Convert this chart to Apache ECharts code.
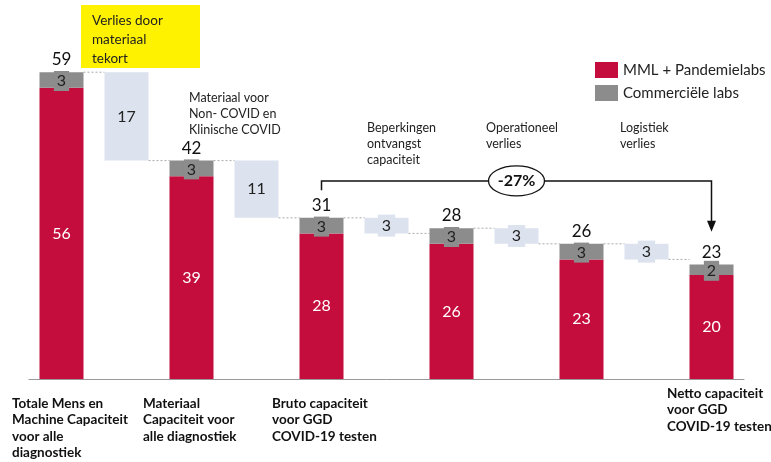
<!DOCTYPE html>
<html><head><meta charset="utf-8">
<script src="https://cdn.jsdelivr.net/npm/echarts@6/dist/echarts.min.js"></script>
<style>html,body{margin:0;padding:0;background:#fff}#c{width:771px;height:462px}</style>
</head><body><div id="c"></div>
<script>
const categories = ['Totale capaciteit','Verlies materiaal','Materiaal capaciteit','Non-COVID','Bruto capaciteit','Beperkingen ontvangst','Na ontvangst','Operationeel verlies','Na operationeel','Logistiek verlies','Netto capaciteit'];
const mmlValues        = [56, null, 39, null, 28, null, 26, null, 23, null, 20];
const commercialValues = [3,  null, 3,  null, 3,  null, 3,  null, 3,  null, 2];
const totalLabels      = [59, null, 42, null, 31, null, 28, null, 26, null, 23];
const lossValues       = [null, 17, null, 11, null, 3, null, 3, null, 3, null];
const bottomLabels = [
  'Totale Mens en\nMachine Capaciteit\nvoor alle\ndiagnostiek',
  'Materiaal\nCapaciteit voor\nalle diagnostiek',
  'Bruto capaciteit\nvoor GGD\nCOVID-19 testen',
  'Netto capaciteit\nvoor GGD\nCOVID-19 testen'
];
const stepLabels = [
  'Materiaal voor\nNon- COVID en\nKlinische COVID',
  'Beperkingen\nontvangst\ncapaciteit',
  'Operationeel\nverlies',
  'Logistiek\nverlies'
];
const highlightLabel = 'Verlies door\nmateriaal\ntekort';
const changeLabel = '-27%';
const seriesNames = ['MML + Pandemielabs', 'Commerciële labs'];

const RED = '#c40d3d', GREY = '#8c8c8c', LOSS = '#dce2ee';
const FONT = 'Lato, "Open Sans", sans-serif';

// derived waterfall pieces
const totals = mmlValues.map((v, i) => v == null ? null : v + commercialValues[i]);
const lossBase = lossValues.map((v, i) => v == null ? null : totals[i - 1] - v);
const topZero = totals.map(v => v == null ? null : 0);
const connectorData = [];
for (let i = 0; i < categories.length - 1; i++) {
  const level = totals[i] != null ? totals[i] : lossBase[i];
  connectorData.push([i, level]);
}

const chart = echarts.init(document.getElementById('c'), null, {renderer: 'canvas'});
const BW = 44;
chart.setOption({
  animation: false,
  textStyle: {fontFamily: FONT},
  grid: {left: 29, right: 27, top: 15, bottom: 83},
  legend: {
    data: seriesNames, orient: 'vertical', left: 590, top: 57,
    itemWidth: 23, itemHeight: 16, itemGap: 7, icon: 'rect',
    textStyle: {fontSize: 15, color: '#222', fontFamily: FONT}
  },
  xAxis: {
    type: 'category', data: categories,
    axisLine: {lineStyle: {color: '#999', width: 1}},
    axisTick: {show: false}, axisLabel: {show: false}, splitLine: {show: false}
  },
  yAxis: {type: 'value', min: 0, max: 70, show: false, splitLine: {show: false}},
  series: [
    {
      name: 'base', type: 'bar', stack: 'w', barWidth: BW, data: lossBase,
      itemStyle: {color: 'rgba(0,0,0,0)'}, silent: true
    },
    {
      name: seriesNames[0], type: 'bar', stack: 'w', barWidth: BW, data: mmlValues,
      itemStyle: {color: RED},
      label: {show: true, position: 'inside', color: '#fff', fontSize: 16, fontFamily: FONT}
    },
    {
      name: 'loss', type: 'bar', stack: 'w', barWidth: BW, data: lossValues,
      itemStyle: {color: LOSS},
      label: {show: true, position: 'inside', color: '#222', fontSize: 16, fontFamily: FONT,
        backgroundColor: LOSS, padding: [3, 4, 3, 4]}
    },
    {
      name: seriesNames[1], type: 'bar', stack: 'w', barWidth: BW, data: commercialValues,
      itemStyle: {color: GREY},
      label: {show: true, position: 'inside', color: '#222', fontSize: 16, fontFamily: FONT,
        backgroundColor: GREY, padding: [1, 3, 3, 3], offset: [0, 1]}
    },
    {
      name: 'total', type: 'bar', stack: 'w', barWidth: BW, data: topZero,
      itemStyle: {color: 'rgba(0,0,0,0)'},
      label: {show: true, position: 'top', distance: 4, color: '#111', fontSize: 17, fontFamily: FONT,
        formatter: p => totalLabels[p.dataIndex]}
    },
    {
      name: 'connectors', type: 'custom', z: 1, silent: true, data: connectorData,
      renderItem: (params, api) => {
        const i = api.value(0), lv = api.value(1);
        const p1 = api.coord([i, lv]), p2 = api.coord([i + 1, lv]);
        const hw = api.size([1, 0])[0] * 0.5 * BW / 65;
        return {type: 'line', shape: {x1: p1[0] + hw, y1: p1[1], x2: p2[0] - hw, y2: p2[1]},
          style: {stroke: '#aaa', lineWidth: 1, lineDash: [2, 2]}};
      }
    },
    {
      name: 'bracket', type: 'custom', z: 5, silent: true, data: [[4, 10, 36.3, 38.1, 28.3]],
      renderItem: (params, api) => {
        const a = api.coord([api.value(0), api.value(2)]);
        const b = api.coord([api.value(0), api.value(3)]);
        const c = api.coord([api.value(1), api.value(3)]);
        const d = api.coord([api.value(1), api.value(4)]);
        const mx = (b[0] + c[0]) / 2;
        return {type: 'group', children: [
          {type: 'polyline', shape: {points: [a, b, c, [d[0], d[1] - 9]]},
            style: {stroke: '#111', lineWidth: 1.5, fill: null}},
          {type: 'polygon', shape: {points: [[d[0] - 4.5, d[1] - 11], [d[0] + 4.5, d[1] - 11], [d[0], d[1]]]},
            style: {fill: '#111'}},
          {type: 'ellipse', shape: {cx: mx, cy: b[1], rx: 28, ry: 15},
            style: {fill: '#fff', stroke: '#111', lineWidth: 1.3}},
          {type: 'text', x: mx, y: b[1], style: {text: changeLabel, font: 'bold 16px ' + FONT,
            fill: '#111', align: 'center', verticalAlign: 'middle'}}
        ]};
      }
    }
  ],
  graphic: [
    {type: 'rect', left: 81, top: 5, shape: {width: 119, height: 63}, style: {fill: '#fff200'}},
    {type: 'text', left: 92, top: 11, style: {text: highlightLabel, font: '13.5px ' + FONT, fill: '#222', lineHeight: 19}},
    {type: 'text', left: 189, top: 90, style: {text: stepLabels[0], font: '12.5px ' + FONT, fill: '#222', lineHeight: 16}},
    {type: 'text', left: 367, top: 120, style: {text: stepLabels[1], font: '12.5px ' + FONT, fill: '#222', lineHeight: 16}},
    {type: 'text', left: 486, top: 120, style: {text: stepLabels[2], font: '12.5px ' + FONT, fill: '#222', lineHeight: 16}},
    {type: 'text', left: 620, top: 120, style: {text: stepLabels[3], font: '12.5px ' + FONT, fill: '#222', lineHeight: 16}},
    {type: 'text', left: 12, top: 395, style: {text: bottomLabels[0], font: 'bold 13.5px ' + FONT, fill: '#111', lineHeight: 16.5}},
    {type: 'text', left: 143, top: 395, style: {text: bottomLabels[1], font: 'bold 13.5px ' + FONT, fill: '#111', lineHeight: 16.5}},
    {type: 'text', left: 272, top: 395, style: {text: bottomLabels[2], font: 'bold 13.5px ' + FONT, fill: '#111', lineHeight: 16.5}},
    {type: 'text', left: 667, top: 385, style: {text: bottomLabels[3], font: 'bold 13.5px ' + FONT, fill: '#111', lineHeight: 16.5}}
  ]
});
</script></body></html>
